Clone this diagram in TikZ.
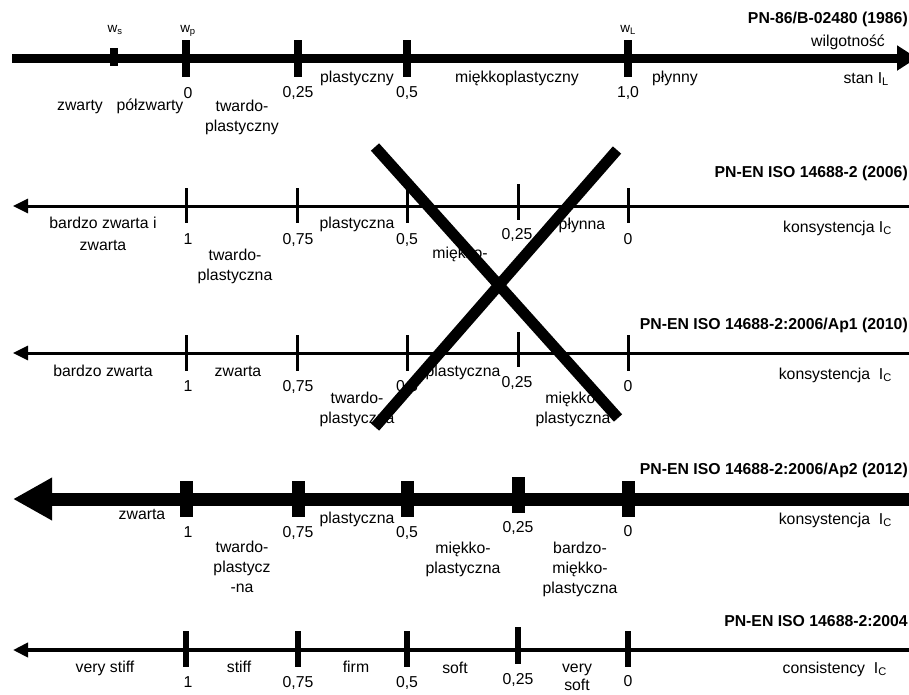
\documentclass[tikz,border=0pt]{standalone}
\usepackage{fontspec}
\setmainfont{Liberation Sans}
\usetikzlibrary{arrows.meta}

\begin{document}
\begin{tikzpicture}[x=1pt,y=-1pt,
	every node/.style={font=\fontsize{15.8}{20}\selectfont,inner sep=0pt,align=center,anchor=base},
	tytul/.style={font=\fontsize{15.8}{20}\selectfont\bfseries,anchor=base east},
	opis/.style={anchor=base east},
	wsk/.style={font=\fontsize{13.5}{15}\selectfont},
	os/.style={line width=3pt,-{Triangle[length=15pt,width=14pt]}}]
	\useasboundingbox (0,0) rectangle (909,694);

	\coordinate (a1) at (12,58);
	\coordinate (b1) at (917,58);
	\draw[line width=9pt,-{Triangle[length=20pt,width=24pt]}] (a1) -- (b1);
	\foreach \x in {186,298,407,628} \draw[line width=8pt] (\x,40) -- (\x,77);
	\draw[line width=8pt] (114,48) -- (114,66);
	\node[wsk] (ws) at (115,32) {w\textsubscript{s}};
	\node[wsk] (wp) at (188,32) {w\textsubscript{p}};
	\node[wsk] (wl) at (628,32) {w\textsubscript{L}};
	\node (r1z) at (188,98) {0};
	\node (r1a) at (298,97) {0,25};
	\node (r1b) at (407,97) {0,5};
	\node (r1c) at (628,97) {1,0};
	\node (r1p) at (357,82) {plastyczny};
	\node (r1m) at (517,82) {miękkoplastyczny};
	\node (r1l) at (675,82) {płynny};
	\node[opis] (r1s) at (889,83) {stan I\textsubscript{L}};
	\node (r1w) at (848,46) {wilgotność};
	\node[tytul] (r1t) at (908,23) {PN-86/B-02480 (1986)};
	\node (r1zw) at (80,110) {zwarty};
	\node (r1pz) at (150,110) {półzwarty};
	\node (r1tp) at (242,131) {twardo-\\plastyczny};

	\coordinate (a2) at (13,206);
	\coordinate (b2) at (912,206);
	\draw[os] (b2) -- (a2);
	\foreach \x in {186,297,407,628} \draw[line width=3pt] (\x,188) -- (\x,223);
	\draw[line width=3pt] (518,184) -- (518,220);
	\node (r2bz) at (103,250) {bardzo zwarta i\\[2pt]zwarta};
	\node (r2j) at (188,244) {1};
	\node (r2tp) at (235,280) {twardo-\\plastyczna};
	\node (r2a) at (298,244) {0,75};
	\node (r2p) at (357,228) {plastyczna};
	\node (r2b) at (407,244) {0,5};
	\node (r2m) at (460,258) {miękko-};
	\node (r2c) at (517,239) {0,25};
	\node (r2l) at (582,229) {płynna};
	\node (r2z) at (628,244) {0};
	\node[opis] (r2k) at (892,232) {konsystencja I\textsubscript{C}};
	\node[tytul] (r2t) at (908,177) {PN-EN ISO 14688-2 (2006)};

	\coordinate (a3) at (13,353);
	\coordinate (b3) at (912,353);
	\draw[os] (b3) -- (a3);
	\foreach \x in {186,297,407,628} \draw[line width=3pt] (\x,335) -- (\x,371);
	\draw[line width=3pt] (518,332) -- (518,367);
	\node (r3bz) at (103,376) {bardzo zwarta};
	\node (r3j) at (188,391) {1};
	\node (r3zw) at (238,376) {zwarta};
	\node (r3a) at (298,391) {0,75};
	\node (r3tp) at (357,423) {twardo-\\plastyczna};
	\node (r3b) at (407,391) {0,5};
	\node (r3p) at (463,376) {plastyczna};
	\node (r3c) at (517,387) {0,25};
	\node (r3mp) at (573,423) {miękko-\\plastyczna};
	\node (r3z) at (628,391) {0};
	\node[opis] (r3k) at (892,379) {konsystencja\ \ I\textsubscript{C}};
	\node[tytul] (r3t) at (908,329) {PN-EN ISO 14688-2:2006/Ap1 (2010)};

	\coordinate (a4) at (13,499);
	\coordinate (b4) at (912,499);
	\draw[line width=13pt,-{Triangle[length=39pt,width=40pt]}] (b4) -- (a4);
	\foreach \x in {186,298,407,628} \draw[line width=13pt] (\x,481) -- (\x,517);
	\draw[line width=13pt] (518,477) -- (518,513);
	\node (r4zw) at (142,519) {zwarta};
	\node (r4j) at (188,537) {1};
	\node (r4tp) at (242,592) {twardo-\\plastycz\\-na};
	\node (r4a) at (298,537) {0,75};
	\node (r4p) at (357,523) {plastyczna};
	\node (r4b) at (407,537) {0,5};
	\node (r4mp) at (463,573) {miękko-\\plastyczna};
	\node (r4c) at (518,532) {0,25};
	\node (r4z) at (628,536) {0};
	\node (r4bm) at (580,593) {bardzo-\\miękko-\\plastyczna};
	\node[opis] (r4k) at (892,524) {konsystencja\ \ I\textsubscript{C}};
	\node[tytul] (r4t) at (908,474) {PN-EN ISO 14688-2:2006/Ap2 (2012)};

	\coordinate (a5) at (13,650);
	\coordinate (b5) at (912,650);
	\draw[os,line width=4pt] (b5) -- (a5);
	\foreach \x in {186,298,407,628} \draw[line width=6pt] (\x,631) -- (\x,667);
	\draw[line width=6pt] (518,627) -- (518,664);
	\node (r5vs) at (105,672) {very stiff};
	\node (r5j) at (188,687) {1};
	\node (r5st) at (239,672) {stiff};
	\node (r5a) at (298,687) {0,75};
	\node (r5f) at (356,672) {firm};
	\node (r5b) at (407,687) {0,5};
	\node (r5so) at (455,673) {soft};
	\node (r5c) at (518,684) {0,25};
	\node (r5vso) at (577,690) {very\\[-2pt]soft};
	\node (r5z) at (628,686) {0};
	\node[opis] (r5k) at (887,673) {consistency\ \ I\textsubscript{C}};
	\node[tytul] (r5t) at (908,626) {PN-EN ISO 14688-2:2004};

	\coordinate (x1) at (375,147);
	\coordinate (x2) at (618,418);
	\coordinate (x3) at (617,150);
	\coordinate (x4) at (375,427);
	\draw[line width=11pt] (x1) -- (x2) (x3) -- (x4);
\end{tikzpicture}
\end{document}
